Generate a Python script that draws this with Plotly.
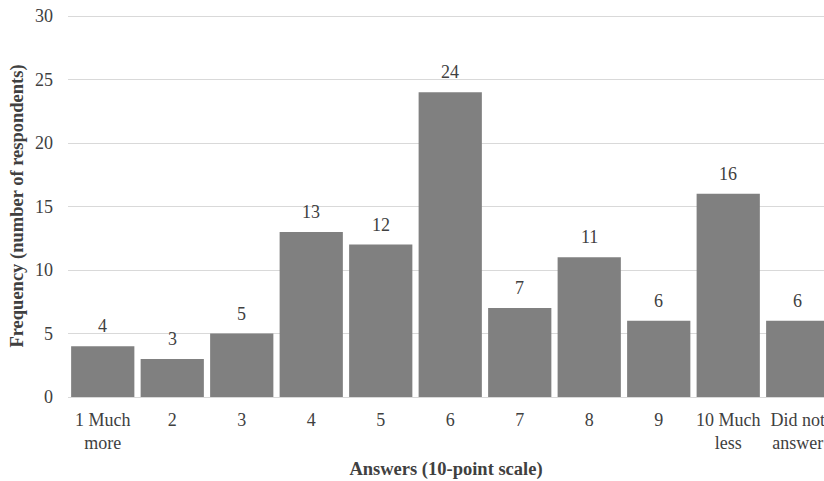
import plotly.graph_objects as go

categories = ["1 Much<br>more", "2", "3", "4", "5", "6", "7", "8", "9", "10 Much<br>less", "Did not<br>answer"]
values = [4, 3, 5, 13, 12, 24, 7, 11, 6, 16, 6]
y_ticks = [0, 5, 10, 15, 20, 25, 30]

FONT = "Liberation Serif, Times New Roman, serif"
FS = 18
TS = 18.5
TXT = "#404040"
xs = list(range(len(categories)))

fig = go.Figure(go.Bar(
    x=xs,
    y=values,
    marker=dict(color="#808080", line=dict(width=0)),
    hoverinfo="x+y",
))

for x, v in zip(xs, values):
    fig.add_annotation(x=x, y=v, text=str(v), showarrow=False,
                       yanchor="bottom", yshift=8,
                       font=dict(family=FONT, size=FS, color=TXT))

fig.update_layout(
    width=824, height=481,
    margin=dict(l=68, r=0, t=15, b=84),
    plot_bgcolor="white", paper_bgcolor="white",
    bargap=0.09,
    showlegend=False,
    font=dict(family=FONT, size=FS, color=TXT),
    xaxis=dict(
        tickmode="array",
        tickvals=xs,
        ticktext=categories,
        range=[-0.5, 10.378],
        showgrid=False,
        showline=True, linecolor="#d9d9d9", linewidth=1,
        ticks="", automargin=False,
        ticklabelstandoff=6,
        ticklabeloverflow="allow",
        tickfont=dict(family=FONT, size=FS, color=TXT),
        title=dict(text="<b>Answers (10-point scale)</b>",
                   font=dict(family=FONT, size=TS, color=TXT), standoff=10),
    ),
    yaxis=dict(
        range=[0, 30.08],
        tickmode="array", tickvals=y_ticks,
        showgrid=True, gridcolor="#d9d9d9", gridwidth=1,
        zeroline=False, showline=False, ticks="",
        ticklabelstandoff=14, automargin=False,
        ticklabeloverflow="allow",
        tickfont=dict(family=FONT, size=FS, color=TXT),
        title=dict(text="<b>Frequency (number of respondents)</b>",
                   font=dict(family=FONT, size=TS, color=TXT), standoff=6),
    ),
)

# remove the browser's default 8px body margin so the figure fills the window
fig.write_html("out.html", config={"displayModeBar": False},
               post_script="document.body.style.margin='0px';")
